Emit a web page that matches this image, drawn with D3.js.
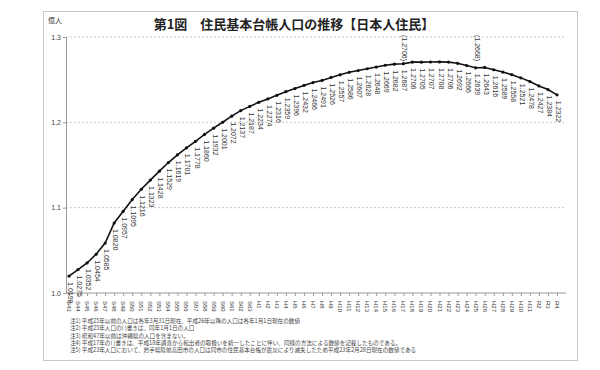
<!DOCTYPE html>
<html>
<head>
<meta charset="utf-8">
<script src="https://cdn.jsdelivr.net/npm/d3@7"></script>
<style>
  body { margin: 0; background: #fff; }
  text { font-family: "Liberation Sans", Arial, sans-serif; }
  .jp { font-family: "Noto Sans CJK JP", sans-serif; }
</style>
</head>
<body>
<div class="chart"></div>
<script>
// 年次（S43〜R4）
const years = [
  "S43","S44","S45","S46","S47","S48","S49","S50","S51","S52","S53","S54","S55","S56","S57",
  "S58","S59","S60","S61","S62","S63",
  "H1","H2","H3","H4","H5","H6","H7","H8","H9","H10","H11","H12","H13","H14","H15","H16",
  "H17","H18","H19","H20","H21","H22","H23","H24","H25","H26","H27","H28","H29","H30","H31",
  "R2","R3","R4"
];

// 人口（億人）
const population = [
  1.0198, 1.0275, 1.0352, 1.0454, 1.0585, 1.0820, 1.0957, 1.1095, 1.1216, 1.1323,
  1.1428, 1.1529, 1.1619, 1.1701, 1.1778, 1.1860, 1.1932, 1.2001, 1.2072, 1.2137,
  1.2187, 1.2234, 1.2274, 1.2316, 1.2359, 1.2396, 1.2432, 1.2466, 1.2491, 1.2526,
  1.2557, 1.2586, 1.2607, 1.2628, 1.2648, 1.2669, 1.2682, 1.2687, 1.2706, 1.2705,
  1.2707, 1.2708, 1.2706, 1.2692, 1.2666, 1.2639, 1.2643, 1.2616, 1.2589, 1.2558,
  1.2521, 1.2478, 1.2427, 1.2384, 1.2322
];

// ( )書きの数値
const bracketYears = ["H17", "H25"];
const bracketValues = [1.2706, 1.2668];

const yTicks = [1.0, 1.1, 1.2, 1.3];

const notes = [
  "注1) 平成25年以前の人口は各年3月31日現在、平成26年以降の人口は各年1月1日現在の数値",
  "注2) 平成25年人口の( )書きは、同年1月1日の人口",
  "注3) 昭和47年以前は沖縄県の人口を含まない。",
  "注4) 平成17年の( )書きは、平成18年調査から転出者の取扱いを統一したことに伴い、同様の方法による数値を記載したものである。",
  "注5) 平成23年人口において、岩手県陸前高田市の人口は同市の住民基本台帳が震災により滅失したため平成23年2月28日現在の数値である"
];

const width = 600;
const height = 370;

const svg = d3.select(".chart")
  .append("svg")
    .attr("width", width)
    .attr("height", height);

// 外枠
svg.append("rect")
  .attr("x", 43.5).attr("y", 11.5)
  .attr("width", 534).attr("height", 349)
  .attr("fill", "none")
  .attr("stroke", "#c8c8c8");

const x = d3.scalePoint()
  .domain(years)
  .range([69, 557]);

const y = d3.scaleLinear()
  .domain([1.0, 1.3])
  .range([293, 37]);

// タイトル
svg.append("text")
  .attr("class", "jp")
  .attr("x", 294)
  .attr("y", 29)
  .attr("text-anchor", "middle")
  .attr("font-size", "13px")
  .attr("font-weight", "bold")
  .attr("fill", "#222")
  .text("第1図\u3000住民基本台帳人口の推移【日本人住民】");

svg.append("text")
  .attr("class", "jp")
  .attr("x", 48)
  .attr("y", 23)
  .attr("font-size", "7px")
  .attr("fill", "#333")
  .text("億人");

// グリッド線
svg.selectAll(".grid")
  .data(yTicks.filter(d => d > 1.0))
  .enter()
  .append("line")
    .attr("x1", 66).attr("x2", 566)
    .attr("y1", d => y(d)).attr("y2", d => y(d))
    .attr("stroke", "#bbb")
    .attr("stroke-dasharray", "2,2")
    .attr("stroke-width", 0.8);

// Y軸
const yAxis = d3.axisLeft(y)
  .tickValues(yTicks)
  .tickSize(3)
  .tickFormat(d3.format(".1f"));

svg.append("g")
  .attr("transform", "translate(66,0)")
  .call(yAxis)
  .call(g => g.select(".domain").attr("stroke", "#999"))
  .call(g => g.selectAll(".tick line").attr("stroke", "#999"))
  .call(g => g.selectAll(".tick text")
    .attr("font-size", "7px")
    .attr("fill", "#444")
    .attr("x", -5));

// X軸
const xAxis = d3.axisBottom(x)
  .tickSize(3)
  .tickFormat("");

svg.append("g")
  .attr("transform", `translate(0,${y(1.0)})`)
  .call(xAxis)
  .call(g => g.select(".domain").attr("d", "M66,0H566").attr("stroke", "#999"))
  .call(g => g.selectAll(".tick line").attr("stroke", "#999"));

svg.selectAll(".xlabel")
  .data(years)
  .enter()
  .append("text")
    .attr("transform", d => `translate(${x(d) - 2},301) rotate(90)`)
    .attr("font-size", "6px")
    .attr("fill", "#333")
    .text(d => d);

// 折れ線
const line = d3.line()
  .x((d, i) => x(years[i]))
  .y(d => y(d));

svg.append("path")
  .datum(population)
  .attr("d", line)
  .attr("fill", "none")
  .attr("stroke", "#111")
  .attr("stroke-width", 1.6);

svg.selectAll(".dot")
  .data(population)
  .enter()
  .append("circle")
    .attr("cx", (d, i) => x(years[i]))
    .attr("cy", d => y(d))
    .attr("r", 1.6)
    .attr("fill", "#111");

// データラベル
svg.selectAll(".label")
  .data(population)
  .enter()
  .append("text")
    .attr("transform", (d, i) => `translate(${x(years[i]) - 1},${y(d) + 6}) rotate(90)`)
    .attr("font-size", "7px")
    .attr("fill", "#333")
    .text(d => d.toFixed(4));

// ( )書きのラベル
svg.selectAll(".bracket")
  .data(bracketValues)
  .enter()
  .append("text")
    .attr("transform", (d, i) => `translate(${x(bracketYears[i]) - 1},35) rotate(90)`)
    .attr("font-size", "7px")
    .attr("fill", "#333")
    .text(d => `(${d.toFixed(4)})`);

// 注記
svg.selectAll(".note")
  .data(notes)
  .enter()
  .append("text")
    .attr("class", "jp")
    .attr("x", 70)
    .attr("y", (d, i) => 323 + i * 7.3)
    .attr("font-size", "5.6px")
    .attr("fill", "#444")
    .text(d => d);
</script>
</body>
</html>
